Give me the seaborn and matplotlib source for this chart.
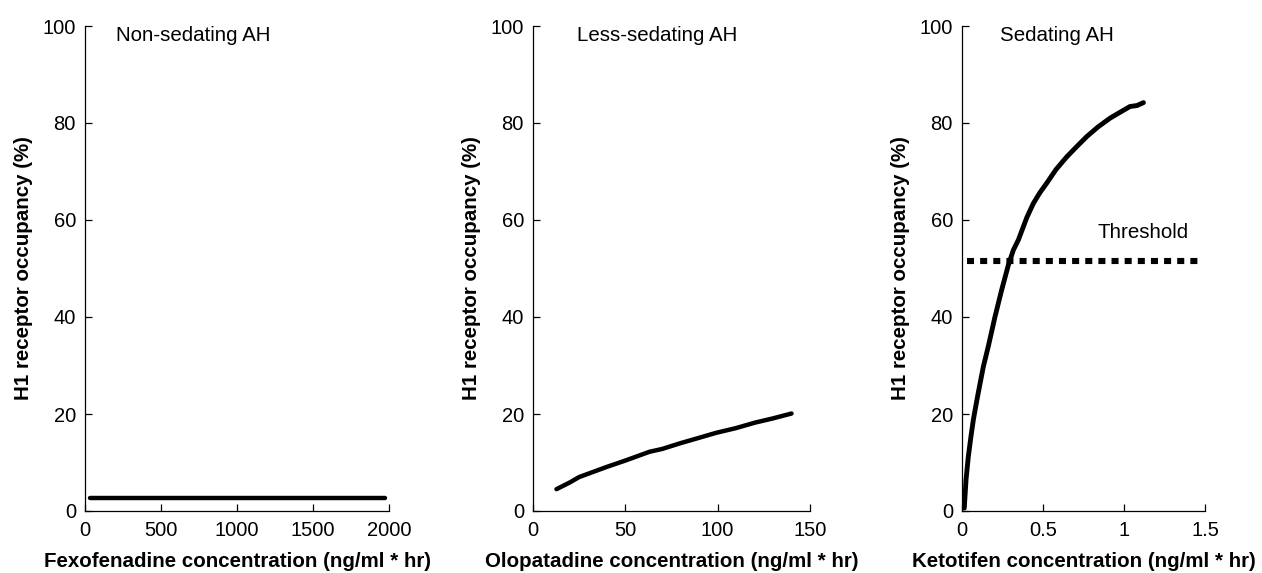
import matplotlib
matplotlib.use("Agg")
import matplotlib.pyplot as plt
import seaborn as sns
import pandas as pd

# Fexofenadine: flat, near-zero H1 receptor occupancy
fexo_conc = [33, 500, 1000, 1500, 1974]
fexo_occ = [2.6, 2.6, 2.6, 2.6, 2.6]

# Olopatadine: slow, nearly linear rise
olop_conc = [12.7, 20, 25, 30, 40, 50, 63, 70, 80, 90, 99, 110, 120, 130, 140]
olop_occ = [4.5, 5.9, 7.0, 7.7, 9.1, 10.4, 12.2, 12.8, 14.0, 15.1, 16.1, 17.1, 18.2, 19.1, 20.1]

# Ketotifen: steep saturating rise
keto_conc = [0.014, 0.025, 0.039, 0.055, 0.07, 0.085, 0.10, 0.132, 0.162, 0.204,
             0.245, 0.286, 0.317, 0.348, 0.40, 0.44, 0.48, 0.523, 0.58, 0.646,
             0.71, 0.77, 0.84, 0.914, 0.98, 1.037, 1.08, 1.12]
keto_occ = [0.6, 6.5, 11.2, 15.3, 18.8, 21.6, 24.3, 29.8, 33.9, 40.1,
            45.6, 50.7, 53.8, 55.9, 60.5, 63.4, 65.6, 67.6, 70.4, 73.0,
            75.2, 77.2, 79.2, 81.0, 82.3, 83.4, 83.6, 84.2]

# Sedation threshold
thr_conc = [0.03, 1.48]
thr_occ = [51.5, 51.5]

panel_titles = ["Non-sedating AH", "Less-sedating AH", "Sedating AH"]
x_labels = ["Fexofenadine concentration (ng/ml * hr)",
            "Olopatadine concentration (ng/ml * hr)",
            "Ketotifen concentration (ng/ml * hr)"]
y_label = "H1 receptor occupancy (%)"
x_ticks = [[0, 500, 1000, 1500, 2000], [0, 50, 100, 150], [0, 0.5, 1, 1.5]]
x_tick_labels = [["0", "500", "1000", "1500", "2000"],
                 ["0", "50", "100", "150"],
                 ["0", "0.5", "1", "1.5"]]
y_ticks = [0, 20, 40, 60, 80, 100]
title_x = [204, 23.8, 0.235]

sns.set_theme(style="ticks")
plt.rcParams["font.family"] = ["Liberation Sans", "DejaVu Sans"]
plt.rcParams["text.color"] = "black"
plt.rcParams["axes.labelcolor"] = "black"
plt.rcParams["xtick.color"] = "black"
plt.rcParams["ytick.color"] = "black"

W, H = 1262, 573
fig = plt.figure(figsize=(W / 100, H / 100), dpi=100)
fig.patch.set_facecolor("white")

boxes = [(85, 389), (533, 810), (962, 1205)]
top_px, bot_px = 26, 511

series = [
    pd.DataFrame({"conc": fexo_conc, "occ": fexo_occ}),
    pd.DataFrame({"conc": olop_conc, "occ": olop_occ}),
    pd.DataFrame({"conc": keto_conc, "occ": keto_occ}),
]
line_widths = [3.2, 3.2, 3.5]

for i, (l, r) in enumerate(boxes):
    ax = fig.add_axes([l / W, (H - bot_px) / H, (r - l) / W, (bot_px - top_px) / H])
    ax.set_facecolor("white")
    sns.lineplot(data=series[i], x="conc", y="occ", ax=ax, color="black",
                 linewidth=line_widths[i], estimator=None, sort=False,
                 solid_capstyle="round", solid_joinstyle="round")
    if i == 2:
        thr = pd.DataFrame({"conc": thr_conc, "occ": thr_occ})
        sns.lineplot(data=thr, x="conc", y="occ", ax=ax, color="black",
                     linewidth=4.4, estimator=None)
        ax.lines[-1].set_dashes((1.15, 1.0))
        ax.lines[-1].set_dash_capstyle("butt")
        ax.text(1.12, 57.5, "Threshold", ha="center", va="center",
                fontsize=14.8, color="black")

    ax.set_xlim(x_ticks[i][0], x_ticks[i][-1])
    ax.set_ylim(0, 100)
    ax.set_xticks(x_ticks[i])
    ax.set_xticklabels(x_tick_labels[i])
    ax.set_yticks(y_ticks)
    ax.tick_params(direction="in", length=5, width=0.9, labelsize=14.5,
                   colors="black")
    ax.tick_params(axis="x", pad=7)
    ax.tick_params(axis="y", pad=6.5)
    for s in ["top", "right"]:
        ax.spines[s].set_visible(False)
    for s in ["left", "bottom"]:
        ax.spines[s].set_linewidth(0.9)
        ax.spines[s].set_color("black")
    ax.set_xlabel(x_labels[i], fontsize=14.8, fontweight="bold", labelpad=9,
                  color="black")
    ax.set_ylabel(y_label, fontsize=14.8, fontweight="bold", labelpad=7,
                  color="black")
    ax.text(title_x[i], 98, panel_titles[i], ha="left", va="center",
            fontsize=14.8, color="black")

fig.savefig("out.png", dpi=100, facecolor="white")
